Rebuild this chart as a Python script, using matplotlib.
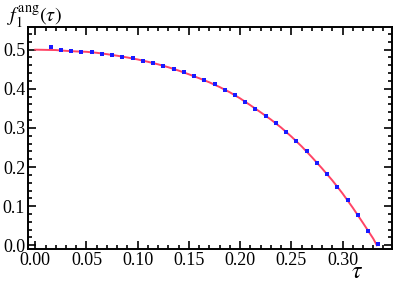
import matplotlib
matplotlib.use("Agg")
import matplotlib.pyplot as plt
from matplotlib import rcParams
from matplotlib.ticker import MultipleLocator

# blue points
tau_pts = [0.015, 0.025, 0.035, 0.045, 0.055, 0.065, 0.075, 0.085, 0.095, 0.105,
           0.115, 0.125, 0.135, 0.145, 0.155, 0.165, 0.175, 0.185, 0.195, 0.205,
           0.215, 0.225, 0.235, 0.245, 0.255, 0.265, 0.275, 0.285, 0.295, 0.305,
           0.315, 0.325, 0.335]
f_pts = [0.506, 0.498, 0.496, 0.495, 0.494, 0.490, 0.487, 0.482, 0.478, 0.472,
         0.466, 0.459, 0.451, 0.442, 0.432, 0.422, 0.411, 0.398, 0.384, 0.367,
         0.349, 0.331, 0.312, 0.290, 0.266, 0.240, 0.211, 0.182, 0.150, 0.115,
         0.077, 0.037, 0.003]

# red curve
tau_line = [0.00, 0.01, 0.02, 0.03, 0.04, 0.05, 0.06, 0.07, 0.08, 0.09, 0.10,
            0.11, 0.12, 0.13, 0.14, 0.15, 0.16, 0.17, 0.18, 0.19, 0.20, 0.21,
            0.22, 0.23, 0.24, 0.25, 0.26, 0.27, 0.28, 0.29, 0.30, 0.31, 0.32,
            0.33, 0.3335]
f_line = [0.500, 0.4995, 0.499, 0.497, 0.4955, 0.4945, 0.492, 0.4885, 0.4845,
          0.480, 0.475, 0.469, 0.4625, 0.455, 0.4465, 0.437, 0.427, 0.4165,
          0.4045, 0.391, 0.3755, 0.358, 0.340, 0.3215, 0.301, 0.278, 0.253,
          0.2255, 0.1965, 0.166, 0.1325, 0.096, 0.057, 0.017, 0.0]

rcParams["font.family"] = "Liberation Serif"
rcParams["mathtext.fontset"] = "stix"

fig = plt.figure(figsize=(3.95, 2.87), dpi=100)
ax = fig.add_axes([0.0709, 0.1324, 0.9215, 0.7736])
ax.plot(tau_line, f_line, color="#ff4466", lw=1.4, zorder=2)
ax.plot(tau_pts, f_pts, ls="none", marker="s", ms=2.6, mew=0,
        color="#1a1aff", zorder=3)

ax.set_xlim(-0.0071, 0.3483)
ax.set_ylim(-0.0095, 0.558)
ax.xaxis.set_major_locator(MultipleLocator(0.05))
ax.xaxis.set_minor_locator(MultipleLocator(0.01))
ax.yaxis.set_major_locator(MultipleLocator(0.1))
ax.yaxis.set_minor_locator(MultipleLocator(0.02))
ax.xaxis.set_major_formatter(lambda v, p: f"{v:.2f}")
ax.yaxis.set_major_formatter(lambda v, p: f"{v:.1f}")
ax.tick_params(which="both", direction="in", top=True, right=True,
               labelsize=13, pad=2, width=1.2)
ax.tick_params(which="major", length=6)
ax.tick_params(which="minor", length=3)
for sp in ax.spines.values():
    sp.set_linewidth(1.4)

fig.text(0.018, 0.925, r"$f_1^{\mathrm{ang}}(\tau)$", fontsize=14.5, ha="left",
         va="baseline")
fig.text(0.904, 0.03, r"$\tau$", fontsize=17, ha="center", va="baseline")

fig.savefig("out.png", dpi=100)
